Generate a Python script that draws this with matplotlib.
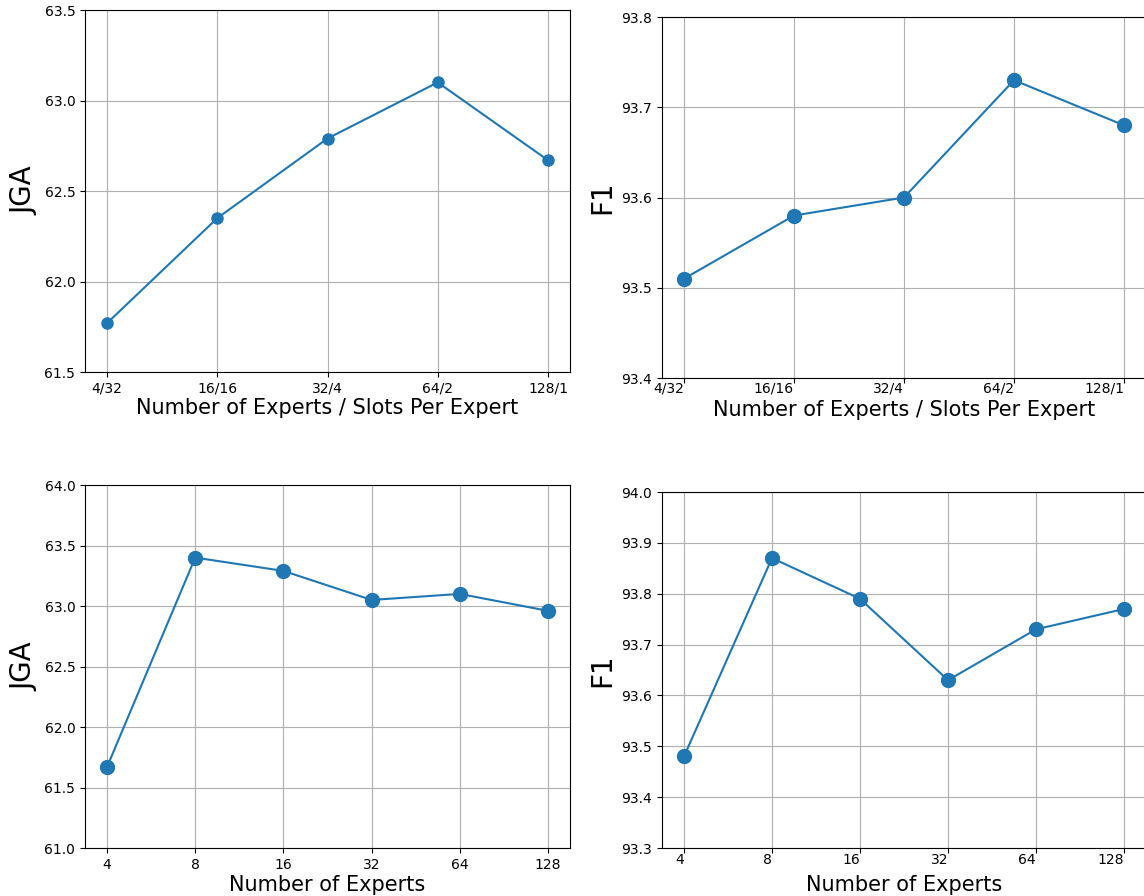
import matplotlib
matplotlib.use("Agg")
import matplotlib.pyplot as plt

# configurações: especialistas / slots por especialista
config_labels = ['4/32', '16/16', '32/4', '64/2', '128/1']
jga_config = [61.77, 62.35, 62.79, 63.10, 62.67]
f1_config = [93.51, 93.58, 93.60, 93.73, 93.68]

# número de especialistas
expert_labels = ['4', '8', '16', '32', '64', '128']
jga_experts = [61.67, 63.40, 63.29, 63.05, 63.10, 62.96]
f1_experts = [93.48, 93.87, 93.79, 93.63, 93.73, 93.77]

W, H = 1144, 896
fig = plt.figure(figsize=(W / 100, H / 100), dpi=100)


def eixo(x0, y0, x1, y1):
    # coordenadas em pixels (origem no topo) -> fração da figura
    return fig.add_axes([x0 / W, 1 - y1 / H, (x1 - x0) / W, (y1 - y0) / H])


def painel(ax, labels, valores, ylim, yticks, ylabel, xlabel, ms,
           ha='center', pad=3.5, labelpad=2):
    x = range(len(labels))
    ax.plot(x, valores, marker='o', markersize=ms, color='#1f77b4', linewidth=1.5)
    ax.set_xticks(list(x))
    ax.set_xticklabels(labels, ha=ha)
    ax.tick_params(axis='x', pad=pad)
    ax.set_ylim(*ylim)
    ax.set_yticks(yticks)
    ax.set_yticklabels([f'{v:.1f}' for v in yticks])
    ax.grid(True)
    ax.set_ylabel(ylabel, fontsize=20)
    ax.set_xlabel(xlabel, fontsize=15, labelpad=labelpad)


ax1 = eixo(85, 10, 570, 372)
painel(ax1, config_labels, jga_config, (61.5, 63.5), [61.5, 62.0, 62.5, 63.0, 63.5],
       'JGA', 'Number of Experts / Slots Per Expert', 8)

ax2 = eixo(662, 17, 1146, 378)
painel(ax2, config_labels, f1_config, (93.4, 93.8), [93.4, 93.5, 93.6, 93.7, 93.8],
       'F1', 'Number of Experts / Slots Per Expert', 10, ha='right', pad=-1, labelpad=3)

ax3 = eixo(85, 485, 570, 848)
painel(ax3, expert_labels, jga_experts, (61.0, 64.0), [61.0, 61.5, 62.0, 62.5, 63.0, 63.5, 64.0],
       'JGA', 'Number of Experts', 10)

ax4 = eixo(662, 492, 1146, 848)
painel(ax4, expert_labels, f1_experts, (93.3, 94.0), [93.3, 93.4, 93.5, 93.6, 93.7, 93.8, 93.9, 94.0],
       'F1', 'Number of Experts', 10, ha='right', pad=0, labelpad=6)

plt.savefig('out.png', dpi=100)
